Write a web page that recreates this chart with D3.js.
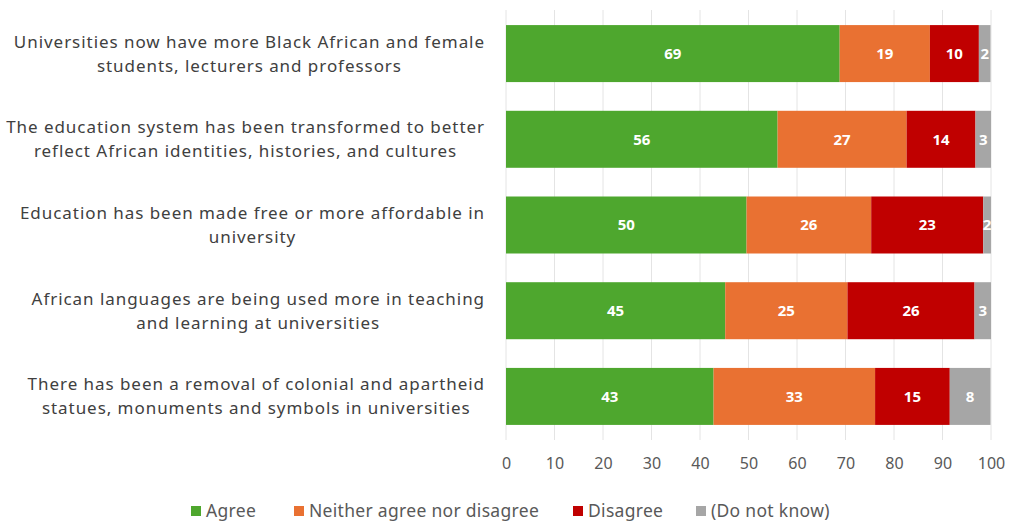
<!DOCTYPE html>
<html><head><meta charset="utf-8">
<script src="https://cdn.jsdelivr.net/npm/d3@7"></script>
<style>
html,body{margin:0;padding:0;background:#fff;}
svg{display:block;font-family:"Noto Sans",sans-serif;}
</style></head>
<body><svg id="chart" width="1016" height="524"></svg>
<script>
const categories = [
  "Universities now have more Black African and female|students, lecturers and professors",
  "The education system has been transformed to better|reflect African identities, histories, and cultures",
  "Education has been made free or more affordable in|university",
  "African languages are being used more in teaching|and learning at universities",
  "There has been a removal of colonial and apartheid|statues, monuments and symbols in universities"
];
const seriesNames = ["Agree", "Neither agree nor disagree", "Disagree", "(Do not know)"];
const agree    = [68.8, 56.0, 49.6, 45.2, 42.8];
const neither  = [18.6, 26.6, 25.7, 25.2, 33.3];
const disagree = [10.1, 14.2, 23.1, 26.2, 15.4];
const dontKnow = [2.4, 3.2, 1.6, 3.4, 8.4];
const xTicks = [0,10,20,30,40,50,60,70,80,90,100];
const colors = ["#4ea72e", "#e97132", "#c00000", "#a6a6a6"];

const series = [agree, neither, disagree, dontKnow];
const rows = categories.map((c,i)=>{const r={cat:c}; seriesNames.forEach((s,j)=>r[s]=series[j][i]); return r;});

const svg = d3.select("#chart");
const x = d3.scaleLinear().domain([0,100]).range([506,991]);
const y = d3.scaleBand().domain(categories).range([10,440]).paddingInner(0.335).paddingOuter(0.176);
const color = d3.scaleOrdinal().domain(seriesNames).range(colors);

// gridlines
svg.append("g").selectAll("line").data(xTicks).join("line")
  .attr("x1",d=>x(d)).attr("x2",d=>x(d)).attr("y1",10).attr("y2",440)
  .attr("stroke","#e4e4e4").attr("stroke-width",1);

const stacked = d3.stack().keys(seriesNames)(rows);
const g = svg.append("g");
stacked.forEach(layer=>{
  const lg = g.append("g").attr("fill", color(layer.key));
  lg.selectAll("rect").data(layer).join("rect")
    .attr("x",d=>x(d[0])).attr("width",d=>x(d[1])-x(d[0]))
    .attr("y",d=>y(d.data.cat)).attr("height",y.bandwidth());
  lg.selectAll("text").data(layer).join("text")
    .attr("x",d=>(x(d[0])+x(d[1]))/2)
    .attr("y",d=>y(d.data.cat)+y.bandwidth()/2)
    .attr("dy","0.35em").attr("text-anchor","middle")
    .attr("fill","#fff").attr("font-weight","bold").attr("font-size","15px")
    .text(d=>Math.round(d[1]-d[0]));
});

// x axis
const xAxis = d3.axisBottom(x).tickValues(xTicks).tickSize(0).tickPadding(0).tickFormat(d3.format("d"));
const ax = svg.append("g").attr("transform","translate(0,458)").call(xAxis);
ax.select(".domain").remove();
ax.selectAll("text").attr("font-size","16px").attr("fill","#595959").attr("font-family","Noto Sans, sans-serif");

// category labels
const labG = svg.append("g");
categories.forEach(c=>{
  const lines = c.split("|");
  const cy = y(c)+y.bandwidth()/2;
  const t = labG.append("text").attr("font-size","17px").attr("letter-spacing","0.95px").attr("fill","#404040").attr("text-anchor","middle");
  const spans = lines.map((l,i)=>t.append("tspan").attr("y", cy + (i-(lines.length-1)/2)*24).attr("dy","0.35em").text(l));
  const w = d3.max(spans, s=>s.node().getComputedTextLength());
  spans.forEach(s=>s.attr("x", 485 - w/2));
});

// legend
const legendX = [191, 294, 573, 696];
const lg = svg.append("g").attr("transform","translate(0,511)");
seriesNames.forEach((s,i)=>{
  lg.append("rect").attr("x",legendX[i]).attr("y",-5).attr("width",10).attr("height",10).attr("fill",color(s));
  lg.append("text").attr("x",legendX[i]+15).attr("y",0).attr("dy","0.35em").attr("font-size","17.5px").attr("letter-spacing","0.3px").attr("fill","#595959").text(s);
});
</script></body></html>
